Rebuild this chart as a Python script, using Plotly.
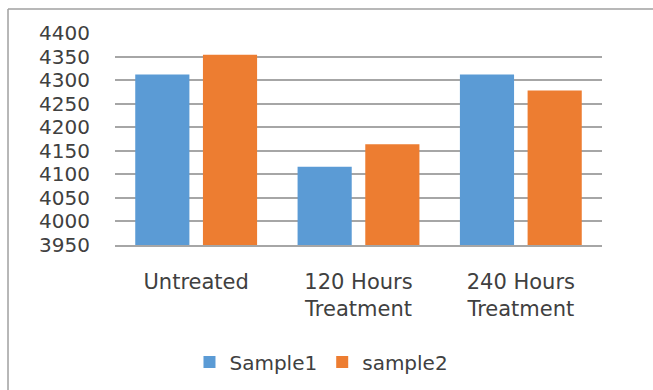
import plotly.graph_objects as go

# Category labels and measured values for the two samples
categories = ["Untreated", "120 Hours<br>Treatment", "240 Hours<br>Treatment"]
sample1 = [4312, 4116, 4312]
sample2 = [4354, 4164, 4278]
y_ticks = list(range(3950, 4401, 50))

BLUE = "#5B9BD5"
ORANGE = "#ED7D31"
GRID = "#A6A6A6"
TEXT = "#404040"
FONT = "DejaVu Sans"

fig = go.Figure()
fig.add_trace(go.Bar(name="Sample1", x=categories, y=sample1,
                     marker=dict(color=BLUE, line=dict(width=0))))
fig.add_trace(go.Bar(name="sample2", x=categories, y=sample2,
                     marker=dict(color=ORANGE, line=dict(width=0))))

fig.update_layout(
    width=653, height=390,
    margin=dict(l=115, r=51, t=33, b=145, autoexpand=False),
    paper_bgcolor="white", plot_bgcolor="white",
    barmode="group", bargap=0.166, bargroupgap=0.2,
    font=dict(family=FONT, size=20, color=TEXT),
    showlegend=True,
    legend=dict(orientation="h", x=0.424, xanchor="center",
                y=-0.552, yanchor="middle",
                font=dict(family=FONT, size=20, color=TEXT),
                itemwidth=30, traceorder="normal"),
    xaxis=dict(showgrid=False, showline=True, linecolor=GRID, linewidth=1.5,
               ticks="", tickfont=dict(size=21), ticklabelstandoff=17,
               automargin=False, fixedrange=True),
    yaxis=dict(range=[3950, 4400], tickvals=y_ticks, showgrid=True,
               gridcolor=GRID, gridwidth=1.5, zeroline=False, showline=False,
               ticks="", tickfont=dict(size=20), ticklabelstandoff=24,
               automargin=False, fixedrange=True),
    shapes=[
        # chart-area frame: top edge and left edge
        dict(type="line", xref="paper", yref="paper",
             x0=-0.2197, x1=1.2, y0=1.113, y1=1.113,
             line=dict(color="#A0A0A0", width=1.5)),
        dict(type="line", xref="paper", yref="paper",
             x0=-0.2197, x1=-0.2197, y0=1.113, y1=-0.7,
             line=dict(color="#A0A0A0", width=1.5)),
    ],
)

fig.write_html("out.html")
